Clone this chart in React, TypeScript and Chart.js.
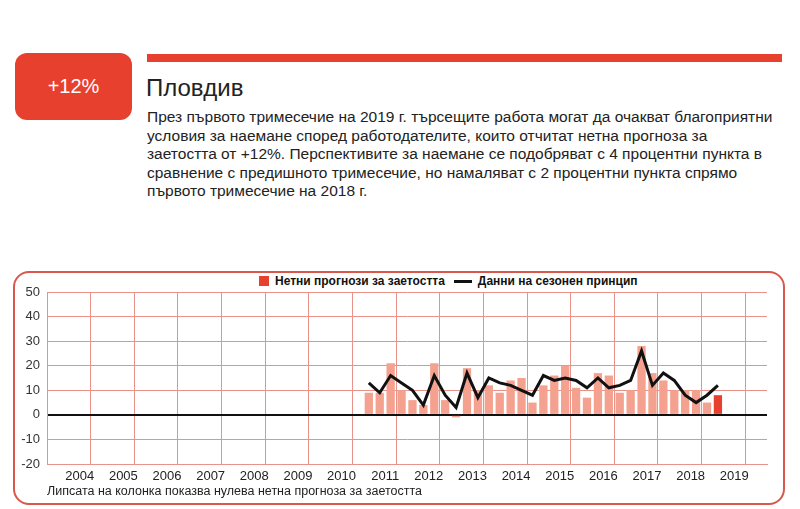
import React, { useEffect, useRef } from "react";
import { Chart, registerables } from "chart.js";

Chart.register(...registerables);

// ---- data ----
const years = ["2004","2005","2006","2007","2008","2009","2010","2011","2012","2013","2014","2015","2016","2017","2018","2019"];
const firstDataYear = 2011; // data begins 2011 Q1
const netForecast = [
  9, 9, 21, 10,   // 2011
  6, 4, 21, 6,    // 2012
  -1, 19, 10, 12, // 2013
  9, 14, 15, 5,   // 2014
  12, 16, 20, 11, // 2015
  7, 17, 16, 9,   // 2016
  10, 28, 17, 14, // 2017
  10, 10, 10, 5,  // 2018
  8               // 2019
];
const seasonal = [
  13, 9, 16, 13,  // 2011
  10, 4, 16, 8,   // 2012
  3, 17, 7, 15,   // 2013
  13, 12, 10, 8,  // 2014
  16, 14, 15, 14, // 2015
  11, 15, 11, 12, // 2016
  14, 26, 12, 17, // 2017
  14, 8, 5, 8,    // 2018
  12              // 2019
];
const yTicks = [-20, -10, 0, 10, 20, 30, 40, 50];
const legendBars = "Нетни прогнози за заетостта";
const legendLine = "Данни на сезонен принцип";
const footnote = "Липсата на колонка показва нулева нетна прогноза за заетостта";
const headline = "+12%";
const title = "Пловдив";
const paragraph = [
  "През първото тримесечие на 2019 г. търсещите работа могат да очакват благоприятни",
  "условия за наемане според работодателите, които отчитат нетна прогноза за",
  "заетостта от +12%. Перспективите за наемане се подобряват с 4 процентни пункта в",
  "сравнение с предишното тримесечие, но намаляват с 2 процентни пункта спрямо",
  "първото тримесечие на 2018 г.",
];

const RED = "#e8402e";
const SALMON = "#f4a18f";
const GRID = "#e9928a";
const FONT = "'Liberation Sans', Arial, sans-serif";

export default function App() {
  const ref = useRef<HTMLCanvasElement | null>(null);

  useEffect(() => {
    const canvas = ref.current;
    if (!canvas) return;
    const offset = (firstDataYear - Number(years[0])) * 4;
    const totalQuarters = years.length * 4;
    const barData = netForecast.map((v, i) => ({ x: offset + i + 0.5, y: v }));
    const lineData = seasonal.map((v, i) => ({ x: offset + i + 0.5, y: v }));
    const barColors = netForecast.map((_, i) => (i === netForecast.length - 1 ? RED : SALMON));

    const chart = new Chart(canvas, {
      type: "bar",
      data: {
        datasets: [
          {
            type: "line",
            label: legendLine,
            data: lineData,
            borderColor: "#111",
            borderWidth: 3,
            pointRadius: 0,
            tension: 0,
            order: 0,
          } as any,
          {
            type: "bar",
            label: legendBars,
            data: barData,
            backgroundColor: barColors,
            borderWidth: 0,
            categoryPercentage: 1,
            barPercentage: 0.76,
            order: 1,
          } as any,
        ],
      },
      options: {
        responsive: false,
        animation: false,
        devicePixelRatio: 1,
        layout: { padding: { top: 17, right: 18, left: 0, bottom: 0 } },
        plugins: { legend: { display: false }, tooltip: { enabled: false } },
        scales: {
          x: {
            type: "linear",
            min: 0,
            max: totalQuarters,
            afterFit: (s: any) => { s.height = 36; },
            afterBuildTicks: (s: any) => {
              const t = [];
              for (let v = 0; v <= totalQuarters; v += 2) t.push({ value: v });
              s.ticks = t;
            },
            grid: {
              drawTicks: false,
              color: (c: any) => (c.tick && c.tick.value % 4 === 0 ? GRID : "rgba(0,0,0,0)"),
              lineWidth: 1,
            },
            border: { color: GRID, width: 1 },
            ticks: {
              autoSkip: false,
              maxRotation: 0,
              padding: 5,
              color: "#222",
              font: { family: FONT, size: 13 },
              callback: (v: any) => {
                const n = Number(v);
                return n % 4 === 2 ? years[(n - 2) / 4] : "";
              },
            },
          },
          y: {
            min: yTicks[0],
            max: yTicks[yTicks.length - 1],
            afterFit: (s: any) => { s.width = 34; },
            afterBuildTicks: (s: any) => { s.ticks = yTicks.map((v) => ({ value: v })); },
            grid: {
              drawTicks: false,
              color: (c: any) => (c.tick && c.tick.value === 0 ? "#111" : GRID),
              lineWidth: (c: any) => (c.tick && c.tick.value === 0 ? 2 : 1),
            },
            border: { color: GRID, width: 1 },
            ticks: {
              padding: 7,
              color: "#333",
              font: { family: FONT, size: 13 },
            },
          },
        },
      },
    });
    return () => chart.destroy();
  }, []);

  return (
    <div style={{ position: "absolute", left: 0, top: 0, width: 800, height: 509, background: "#fff", fontFamily: FONT, overflow: "hidden" }}>
      {/* headline box */}
      <div style={{ position: "absolute", left: 15, top: 53, width: 117, height: 67, background: RED, borderRadius: 12, color: "#fff", fontSize: 20, display: "flex", alignItems: "center", justifyContent: "center" }}>{headline}</div>
      <div style={{ position: "absolute", left: 147, top: 54, width: 635, height: 8, background: RED }} />
      <div style={{ position: "absolute", left: 146, top: 74, fontSize: 24, color: "#222", whiteSpace: "nowrap" }}>{title}</div>
      <div style={{ position: "absolute", left: 147, top: 108, fontSize: 15.5, lineHeight: "18.6px", color: "#222" }}>
        {paragraph.map((l, i) => (
          <div key={i} style={{ whiteSpace: "nowrap" }}>{l}</div>
        ))}
      </div>
      {/* chart frame */}
      <div style={{ position: "absolute", left: 13, top: 271, width: 768, height: 230, border: "2px solid #d9574b", borderRadius: 16 }} />
      {/* legend */}
      <div style={{ position: "absolute", left: 259, top: 274, height: 14, display: "flex", alignItems: "center", fontSize: 12, fontWeight: "bold", color: "#111", whiteSpace: "nowrap" }}>
        <span style={{ display: "inline-block", width: 10, height: 10, background: RED, marginRight: 6 }} />
        <span>{legendBars}</span>
        <span style={{ display: "inline-block", width: 18, height: 3, background: "#111", marginLeft: 9, marginRight: 6 }} />
        <span>{legendLine}</span>
      </div>
      <canvas ref={ref} width={772} height={225} style={{ position: "absolute", left: 13, top: 275 }} />
      <div style={{ position: "absolute", left: 47, top: 484, fontSize: 12.5, color: "#222", whiteSpace: "nowrap" }}>{footnote}</div>
    </div>
  );
}
